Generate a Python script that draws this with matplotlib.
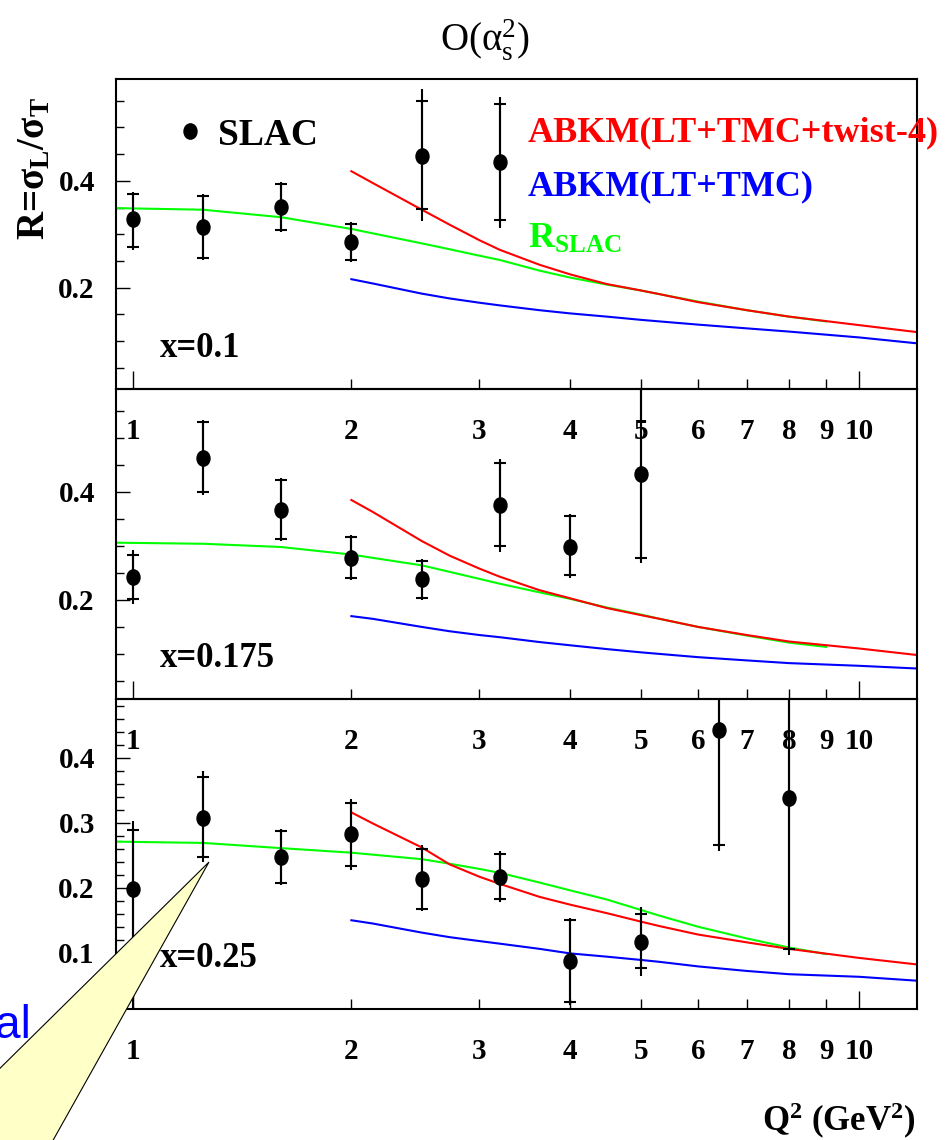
import numpy as np
import matplotlib.pyplot as plt
from matplotlib.path import Path
from matplotlib.patches import Polygon
from matplotlib.lines import Line2D
from matplotlib.ticker import MultipleLocator
from matplotlib.transforms import Affine2D

plt.rcParams['font.family'] = ['Liberation Serif', 'DejaVu Serif']
plt.rcParams['font.weight'] = 'bold'
plt.rcParams['mathtext.fontset'] = 'custom'
plt.rcParams['mathtext.rm'] = 'Liberation Serif:weight=bold'
plt.rcParams['mathtext.bf'] = 'Liberation Serif:weight=bold'
plt.rcParams['mathtext.it'] = 'Liberation Serif:weight=bold'
plt.rcParams['mathtext.sf'] = 'Liberation Serif:weight=normal'
plt.rcParams['mathtext.default'] = 'rm'

# ---- SLAC data, R vs Q^2 (GeV^2) ----
q2_x010 = [1.0, 1.25, 1.6, 2.0, 2.5, 3.2]
r_x010 = [0.328, 0.313, 0.352, 0.286, 0.447, 0.435]
stat_lo_x010 = [0.277, 0.255, 0.308, 0.252, 0.347, 0.327]
stat_hi_x010 = [0.375, 0.372, 0.394, 0.320, 0.550, 0.544]
tot_lo_x010 = [0.271, 0.252, 0.305, 0.249, 0.324, 0.311]
tot_hi_x010 = [0.380, 0.375, 0.397, 0.323, 0.572, 0.557]

q2_x0175 = [1.0, 1.25, 1.6, 2.0, 2.5, 3.2, 4.0, 5.0]
r_x0175 = [0.243, 0.463, 0.366, 0.277, 0.238, 0.375, 0.298, 0.433]
stat_lo_x0175 = [0.201, 0.399, 0.312, 0.240, 0.203, 0.299, 0.246, 0.278]
stat_hi_x0175 = [0.284, 0.529, 0.422, 0.317, 0.272, 0.453, 0.355, 0.60]
tot_lo_x0175 = [0.193, 0.394, 0.309, 0.237, 0.200, 0.289, 0.241, 0.269]
tot_hi_x0175 = [0.292, 0.534, 0.425, 0.320, 0.275, 0.461, 0.360, 0.65]

q2_x025 = [1.0, 1.25, 1.6, 2.0, 2.5, 3.2, 4.0, 5.0, 6.4, 8.0]
r_x025 = [0.198, 0.308, 0.247, 0.282, 0.214, 0.216, 0.088, 0.117, 0.442, 0.338]
stat_lo_x025 = [0.107, 0.247, 0.208, 0.233, 0.168, 0.182, 0.024, 0.077, 0.266, 0.106]
stat_hi_x025 = [0.289, 0.370, 0.287, 0.330, 0.260, 0.252, 0.151, 0.160, 0.62, 0.60]
tot_lo_x025 = [0.0, 0.240, 0.204, 0.228, 0.164, 0.178, 0.020, 0.064, 0.256, 0.097]
tot_hi_x025 = [0.303, 0.379, 0.291, 0.336, 0.266, 0.256, 0.154, 0.171, 0.65, 0.65]

# ---- curves ----
q2_abkm = [2.0, 2.14, 2.5, 2.73, 3.0, 3.2, 3.63, 4.0, 4.49, 5.0, 5.31, 6.0, 7.0, 8.0, 10.0, 12.0]
tw4_x010 = [0.418, 0.396, 0.346, 0.318, 0.289, 0.271, 0.243, 0.225, 0.207, 0.195, 0.188,
            0.173, 0.158, 0.146, 0.130, 0.117]
lt_x010 = [0.216, 0.208, 0.189, 0.180, 0.172, 0.167, 0.158, 0.152, 0.146, 0.140, 0.137,
           0.131, 0.124, 0.118, 0.107, 0.096]
tw4_x0175 = [0.385, 0.363, 0.309, 0.282, 0.258, 0.243, 0.218, 0.203, 0.185, 0.172, 0.165,
             0.150, 0.135, 0.123, 0.110, 0.098]
lt_x0175 = [0.170, 0.165, 0.150, 0.142, 0.135, 0.131, 0.122, 0.116, 0.109, 0.103, 0.100,
            0.094, 0.088, 0.083, 0.078, 0.073]
tw4_x025 = [0.316, 0.299, 0.262, 0.236, 0.217, 0.206, 0.186, 0.174, 0.161, 0.148, 0.141,
            0.128, 0.116, 0.106, 0.092, 0.082]
lt_x025 = [0.150, 0.145, 0.131, 0.124, 0.118, 0.114, 0.106, 0.099, 0.094, 0.089, 0.086,
           0.079, 0.072, 0.067, 0.063, 0.057]

q2_rslac = [0.948, 1.25, 1.6, 2.0, 2.5, 2.73, 3.0, 3.2, 3.63, 4.0, 4.49, 5.0, 5.31, 6.0, 7.0, 8.0, 9.0]
rslac_x010 = [0.349, 0.346, 0.332, 0.310, 0.283, 0.272, 0.260, 0.252, 0.232, 0.219, 0.206,
              0.195, 0.188, 0.174, 0.158, 0.146, 0.137]
rslac_x0175 = [0.306, 0.304, 0.298, 0.284, 0.264, 0.252, 0.239, 0.230, 0.214, 0.202, 0.186,
               0.173, 0.165, 0.150, 0.134, 0.121, 0.113]
rslac_x025 = [0.271, 0.269, 0.261, 0.254, 0.244, 0.237, 0.229, 0.223, 0.208, 0.196, 0.182,
              0.166, 0.157, 0.140, 0.122, 0.108, 0.098]

x_labels = ['x=0.1', 'x=0.175', 'x=0.25']
tick_q2 = [1, 2, 3, 4, 5, 6, 7, 8, 9, 10]

panels = [
    (q2_x010, r_x010, stat_lo_x010, stat_hi_x010, tot_lo_x010, tot_hi_x010, tw4_x010, lt_x010, rslac_x010),
    (q2_x0175, r_x0175, stat_lo_x0175, stat_hi_x0175, tot_lo_x0175, tot_hi_x0175, tw4_x0175, lt_x0175, rslac_x0175),
    (q2_x025, r_x025, stat_lo_x025, stat_hi_x025, tot_lo_x025, tot_hi_x025, tw4_x025, lt_x025, rslac_x025),
]
ylims = [(0.01, 0.59), (0.016, 0.59), (0.013, 0.49)]
text_y = [0.104, 0.104, 0.136]

# slightly tall ellipse for the data points
circ = Path.unit_circle()
dot = Path(Affine2D().scale(0.85, 1.0).transform(circ.vertices), circ.codes)

W, H = 952, 1140
fig = plt.figure(figsize=(W / 100, H / 100), dpi=100)
left, right = 115.7 / W, 917 / W
tops = [79.3, 389.3, 699.3]
ph = 310 / H

axes = []
for i, (q2, r, slo, shi, tlo, thi, tw4, lt, rs) in enumerate(panels):
    ax = fig.add_axes([left, 1 - tops[i] / H - ph, right - left, ph])
    ax.patch.set_visible(False)
    q2 = np.array(q2)
    r = np.array(r)
    ax.plot(q2_rslac, rs, color='#00ff00', lw=1.5)
    ax.plot(q2_abkm, tw4, color='red', lw=1.5)
    ax.plot(q2_abkm, lt, color='blue', lw=1.5)
    ax.errorbar(q2, r, yerr=[r - np.array(tlo), np.array(thi) - r], fmt='none',
                ecolor='k', elinewidth=1.5, capsize=0)
    ax.errorbar(q2, r, yerr=[r - np.array(slo), np.array(shi) - r], fmt='none',
                ecolor='k', elinewidth=1.5, capsize=4, capthick=1.5)
    ax.plot(q2, r, ls='none', marker=dot, ms=11, color='k')

    ax.set_xscale('log')
    ax.set_xlim(0.948, 12.0)
    ax.set_ylim(*ylims[i])
    ax.set_xticks([1, 10], ['1', '10'])
    ax.set_xticks(tick_q2[1:-1], [str(t) for t in tick_q2[1:-1]], minor=True)
    if i < 2:
        ax.set_yticks([0.2, 0.4], ['0.2', '0.4'])
        ax.yaxis.set_minor_locator(MultipleLocator(0.05))
    else:
        ax.set_yticks([0.1, 0.2, 0.3, 0.4], ['0.1', '0.2', '0.3', '0.4'])
        ax.yaxis.set_minor_locator(MultipleLocator(0.02))
    ax.tick_params(axis='x', which='both', direction='in', top=False, pad=21, labelsize=21)
    ax.tick_params(axis='x', which='major', length=13, width=1)
    ax.tick_params(axis='x', which='minor', length=7, width=1)
    ax.tick_params(axis='y', which='both', direction='in', right=False, pad=15, labelsize=21)
    ax.tick_params(axis='y', which='major', length=10, width=1)
    ax.tick_params(axis='y', which='minor', length=5.5, width=1)
    for s in ax.spines.values():
        s.set_linewidth(1.5)
    ax.text(0.0553, text_y[i], x_labels[i], transform=ax.transAxes, fontsize=25,
            ha='left', va='baseline')
    axes.append(ax)

ax1 = axes[0]
slac_handle = Line2D([], [], ls='none', marker=dot, ms=11, color='k')
ax1.legend([slac_handle], ['SLAC'], loc='center left', bbox_to_anchor=(0.0735, 0.82),
           frameon=False, fontsize=27, handlelength=0.8, handletextpad=0.35,
           borderpad=0, borderaxespad=0)
ax1.text(0.5145, 0.799, 'ABKM(LT+TMC+twist-4)', color='red', fontsize=26,
         transform=ax1.transAxes, ha='left', va='baseline')
ax1.text(0.5145, 0.627, 'ABKM(LT+TMC)', color='blue', fontsize=26,
         transform=ax1.transAxes, ha='left', va='baseline')
ax1.text(0.5145, 0.455, r'$R_{SLAC}$', color='#00ff00', fontsize=26,
         transform=ax1.transAxes, ha='left', va='baseline')

fig.text(485 / W, 1 - 50 / H, r'$\mathsf{O(\alpha_s^2)}$', fontsize=28,
         fontweight='normal', ha='center', va='baseline')
fig.text(44 / W, 1 - 240 / H, r'R=$\sigma_L/\sigma_T$', fontsize=28, rotation=90,
         rotation_mode='anchor', ha='left', va='baseline')
fig.text(915 / W, 1 - 1131 / H, r'Q$^2$ (GeV$^2$)', fontsize=25,
         ha='right', va='baseline')

# callout bubble from an overlaid slide
bubble = [(209, 862), (-20, 1088), (-20, 1160), (42, 1160)]
fig.add_artist(Polygon([(x / W, 1 - y / H) for x, y in bubble], closed=True,
                       facecolor='#ffffc8', edgecolor='k', lw=0.8,
                       transform=fig.transFigure, zorder=10))
fig.text(31 / W, 1 - 1038 / H, 'al', color='blue', fontsize=33, fontweight='normal',
         family='Liberation Sans', ha='right', va='baseline', zorder=11)

fig.savefig('out.png', dpi=100)
